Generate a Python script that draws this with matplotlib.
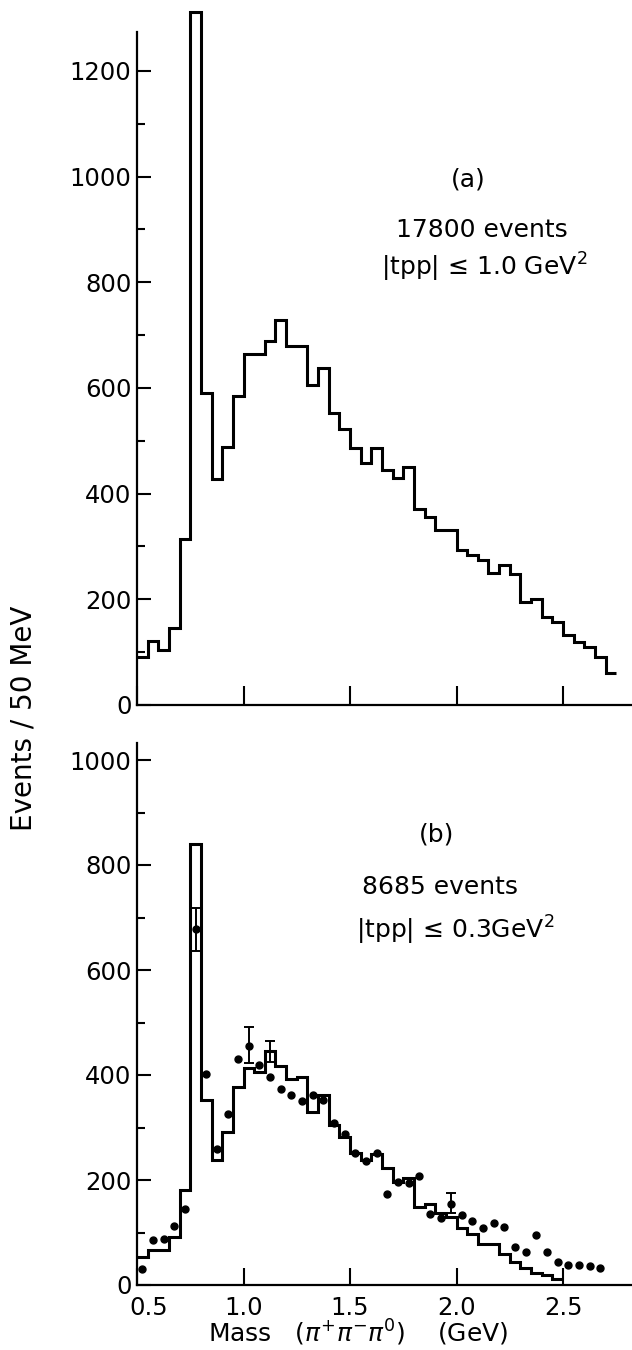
import numpy as np
import matplotlib
matplotlib.use("Agg")
import matplotlib.pyplot as plt
from matplotlib.ticker import FixedLocator
from matplotlib.transforms import ScaledTranslation

# ---------------- data ----------------
bin_width = 0.05
mass_start = 0.5

# panel (a): |tpp| <= 1.0 GeV^2, 17800 events
counts_a = [91, 121, 104, 146, 314, 1312, 590, 427, 489, 585,
            664, 664, 688, 729, 680, 680, 606, 638, 553, 522,
            486, 457, 486, 444, 429, 451, 370, 356, 331, 331,
            294, 284, 274, 250, 264, 248, 194, 201, 167, 157,
            132, 120, 110, 91, 60]

# panel (b): |tpp| <= 0.3 GeV^2, 8685 events (histogram)
counts_b = [53, 67, 67, 91, 181, 840, 352, 239, 291, 377,
            413, 406, 446, 418, 392, 396, 329, 362, 305, 281,
            252, 239, 250, 222, 197, 204, 148, 154, 137, 130,
            108, 98, 79, 79, 60, 44, 32, 23, 19, 11]

# panel (b): data points (dots) at bin centres
dots_b = [30, 86, 88, 112, 144, 678, 402, 260, 326, 430,
          455, 420, 397, 373, 361, 351, 362, 352, 308, 288,
          251, 237, 251, 173, 197, 194, 208, 135, 127, 154,
          133, 122, 109, 119, 110, 73, 63, 95, 63, 44,
          38, 38, 37, 32]

# error bars (bin index, centre value, half-length)
err_bins = [5, 10, 12, 29]
err_vals = [677, 457, 445, 156]
err_half = [41, 34, 20, 19]

yticks_a = [0, 200, 400, 600, 800, 1000, 1200]
yminor_a = [100, 300, 500, 700, 900, 1100]
yticks_b = [0, 200, 400, 600, 800, 1000]
yminor_b = [100, 300, 500, 700, 900]
xticks = [0.5, 1.0, 1.5, 2.0, 2.5]
xtick_labels = ["0.5", "1.0", "1.5", "2.0", "2.5"]

# ---------------- figure ----------------
W, H = 632, 1350
fig = plt.figure(figsize=(W / 100, H / 100), dpi=100)
plt.rcParams['font.family'] = ['DejaVu Sans']
plt.rcParams['mathtext.fontset'] = 'dejavusans'

def px(x0, y_top, x1, y_bot):
    return [x0 / W, 1 - y_bot / H, (x1 - x0) / W, (y_bot - y_top) / H]

xmax = 0.5 + (632 - 137) / 213.0
fs_tick = 17.5
fs_text = 18
lw_axis = 1.6
lw_hist = 2.2

ax_a = fig.add_axes(px(137, 0, 632, 705))
ax_b = fig.add_axes(px(137, 718, 632, 1285))

for ax in (ax_a, ax_b):
    for s in ("top", "right"):
        ax.spines[s].set_visible(False)
    for s in ("left", "bottom"):
        ax.spines[s].set_linewidth(lw_axis)
    ax.set_xlim(0.5, xmax)
    ax.tick_params(axis='y', which='major', direction='in', length=10, width=1.5,
                   labelsize=fs_tick, pad=4)
    ax.tick_params(axis='y', which='minor', direction='in', length=6, width=1.5)
    ax.set_xticks(xticks)
    ax.patch.set_alpha(0)

# ---- panel (a)
edges_a = mass_start + bin_width * np.arange(len(counts_a) + 1)
ax_a.stairs(counts_a, edges_a, baseline=None, color='black', lw=lw_hist)
ax_a.set_ylim(0, 1334)
ax_a.spines['left'].set_bounds(0, 1274)
ax_a.set_yticks(yticks_a)
ax_a.set_yticklabels([str(v) for v in yticks_a])
ax_a.yaxis.set_minor_locator(FixedLocator(yminor_a))
ax_a.tick_params(axis='x', direction='in', length=13.5, width=1.5, labelbottom=False)

# ---- panel (b)
edges_b = mass_start + bin_width * np.arange(len(counts_b) + 1)
ax_b.stairs(counts_b, edges_b, baseline=None, color='black', lw=lw_hist)
centres = mass_start + bin_width * (np.arange(len(dots_b)) + 0.5)
ax_b.plot(centres, dots_b, 'o', color='black', ms=5, mec='black')
err_x = mass_start + bin_width * (np.array(err_bins) + 0.5)
ax_b.errorbar(err_x, err_vals, yerr=err_half, fmt='none', ecolor='black',
              elinewidth=1.4, capsize=3.5, capthick=1.4)
ax_b.set_ylim(0, 1080)
ax_b.spines['left'].set_bounds(0, 1032)
ax_b.set_yticks(yticks_b)
ax_b.set_yticklabels([str(v) for v in yticks_b])
ax_b.yaxis.set_minor_locator(FixedLocator(yminor_b))
ax_b.set_xticklabels(xtick_labels)
ax_b.tick_params(axis='x', direction='in', length=12, width=1.5,
                 labelsize=fs_tick, pad=8)
# shift the "0.5" label a little to the right so it clears the "0" y-label
lab05 = ax_b.get_xticklabels()[0]
lab05.set_transform(lab05.get_transform() +
                    ScaledTranslation(12 / 100, 0, fig.dpi_scale_trans))

# ---- texts
def ftext(x, y, s, fs=fs_text, **kw):
    fig.text(x / W, 1 - y / H, s, ha='center', va='center', fontsize=fs, **kw)

ftext(468, 180, "(a)")
ftext(482, 230, "17800 events")
ftext(484, 267, "|tpp| ≤ 1.0 GeV$^{2}$")
ftext(437, 835, "(b)")
ftext(440, 887, "8685 events")
ftext(455, 930, "|tpp| ≤ 0.3GeV$^{2}$")
ftext(24, 718, "Events / 50 MeV", fs=20, rotation=90)
ftext(358, 1333, r"Mass   ($\pi^{+}\pi^{-}\pi^{0}$)    (GeV)")

fig.savefig("out.png", dpi=100)
